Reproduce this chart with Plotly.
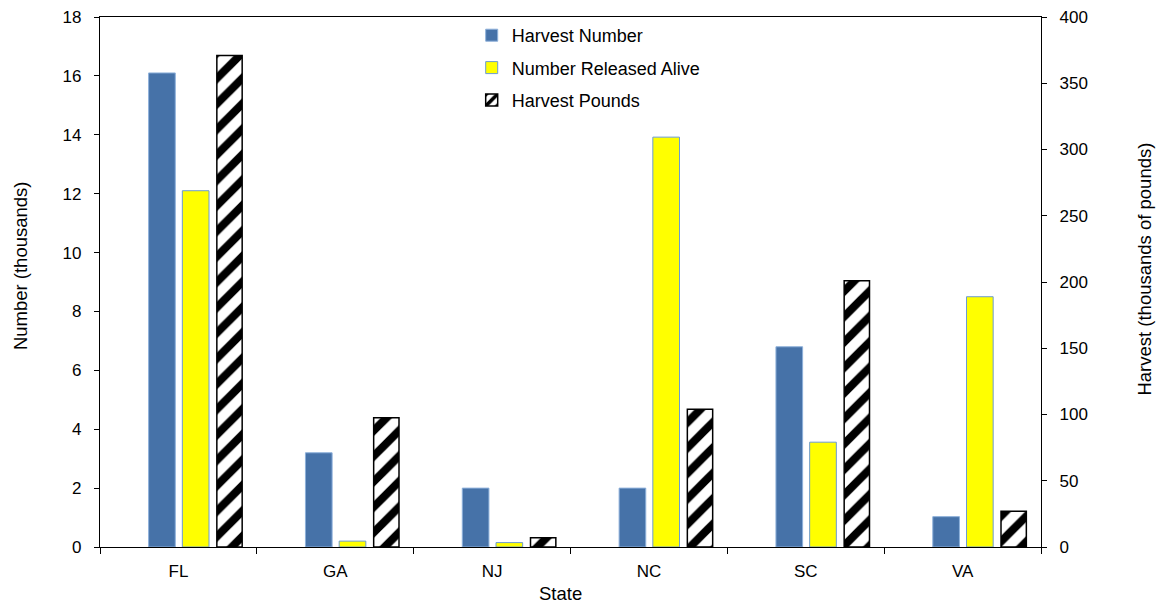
import plotly.graph_objects as go

states = ["FL", "GA", "NJ", "NC", "SC", "VA"]
harvest_number = [16.1, 3.2, 2.0, 2.0, 6.8, 1.03]
released_alive = [12.1, 0.2, 0.15, 13.92, 3.56, 8.5]
harvest_pounds = [371, 97.5, 7, 104, 201, 27]

FONT = "Liberation Sans, Arial, sans-serif"
W = 0.17

fig = go.Figure()
fig.add_trace(go.Bar(
    x=states, y=harvest_number, name="Harvest Number",
    width=W, offset=-0.19, legendgroup="a",
    marker=dict(color="#4672A8", line=dict(color="#8DB0DA", width=1)),
    yaxis="y"))
fig.add_trace(go.Bar(
    x=states, y=released_alive, name="Number Released Alive",
    width=W, offset=0.025, legendgroup="b",
    marker=dict(color="#FFFF00", line=dict(color="#6C9BD2", width=1)),
    yaxis="y"))
fig.add_trace(go.Bar(
    x=states, y=harvest_pounds, name="Harvest Pounds",
    width=W * 0.95, offset=0.245, legendgroup="c",
    marker=dict(color="white", line=dict(color="black", width=1.5),
                pattern=dict(shape="/", fgcolor="black", bgcolor="white",
                             fgopacity=1, size=18, solidity=0.45)),
    yaxis="y2"))

TITLE_SIZE = 18.5

fig.update_layout(
    width=1150, height=595,
    margin=dict(l=92, r=117, t=9, b=56, autoexpand=False),
    plot_bgcolor="white", paper_bgcolor="white",
    font=dict(family=FONT, size=17, color="black"),
    showlegend=True,
    legend=dict(x=0.395, y=1.0, xanchor="left", yanchor="top",
                bgcolor="rgba(0,0,0,0)", traceorder="grouped",
                tracegroupgap=6, font=dict(size=18)),
    xaxis=dict(type="category", categoryorder="array", categoryarray=states,
               range=[-0.5, 5.5], automargin=False,
               showline=True, linecolor="black", linewidth=1.3, mirror=True,
               ticks="outside", ticklen=6, tickcolor="black",
               tickson="boundaries", ticklabelstandoff=8,
               showgrid=False, zeroline=False),
    yaxis=dict(range=[0, 18], dtick=2, showline=True, linecolor="black",
               linewidth=1.3, ticks="outside", ticklen=5, tickcolor="black",
               automargin=False, ticklabeloverflow="allow",
               showgrid=False, zeroline=False, ticklabelstandoff=9),
    yaxis2=dict(range=[0, 400], dtick=50, overlaying="y", side="right",
                showline=True, linecolor="black", linewidth=1.3,
                ticks="outside", ticklen=5, tickcolor="black",
                automargin=False, ticklabeloverflow="allow",
                showgrid=False, zeroline=False, ticklabelstandoff=9),
    annotations=[
        dict(text="Number (thousands)", xref="paper", yref="paper",
             x=-0.085, y=0.53, xanchor="center", yanchor="middle",
             textangle=-90, showarrow=False, font=dict(size=TITLE_SIZE)),
        dict(text="Harvest (thousands of pounds)", xref="paper", yref="paper",
             x=1.109, y=0.5245, xanchor="center", yanchor="middle",
             textangle=-90, showarrow=False, font=dict(size=TITLE_SIZE)),
        dict(text="State", xref="paper", yref="paper",
             x=0.489, y=-0.0868, xanchor="center", yanchor="middle",
             showarrow=False, font=dict(size=TITLE_SIZE)),
    ],
)

fig.write_html("out.html")
